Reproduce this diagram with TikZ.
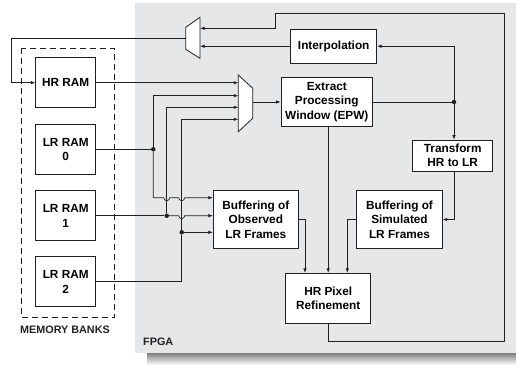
\documentclass[tikz,border=0pt]{standalone}
\usepackage{fontspec}
\setmainfont{Liberation Sans}
\usetikzlibrary{arrows.meta}
\definecolor{fpgabg}{HTML}{E6E7E8}
\definecolor{shade}{HTML}{9A9B9D}
\definecolor{ink}{HTML}{231F20}
\tikzset{
  blk/.style={draw=ink, line width=0.8pt, fill=white, align=center, inner sep=1pt,
    font=\fontsize{11.8}{14.5}\selectfont\bfseries},
  wire/.style={draw=ink, line width=0.7pt},
  arr/.style={wire, -{Latex[length=4.5pt,width=3.5pt]}},
  dot/.style={circle, fill=ink, inner sep=0pt, minimum size=4.5pt},
  lbl/.style={font=\fontsize{10.8}{13}\selectfont\bfseries, text=ink, inner sep=0pt},
  muxshape/.style={draw=ink, line width=0.8pt, fill=white}
}
\begin{document}
\begin{tikzpicture}[x=1pt,y=-1pt]
\useasboundingbox (0,0) rectangle (516,365);
% FPGA background and shadow
\fill[shade] (147,353) rectangle (516,365);
\fill[fpgabg] (135,3) rectangle (516,353);
\node[lbl, anchor=west] (fpga) at (143,341.7) {FPGA};
% memory banks
\draw[ink, line width=0.7pt, dash pattern=on 6pt off 4pt] (21,48.3) rectangle (114.3,317.7);
\node[lbl] (mem) at (65,329.3) {MEMORY BANKS};
\node[blk, minimum width=60pt, minimum height=50pt] (hr) at (65.7,82.7) {HR RAM};
\node[blk, minimum width=60pt, minimum height=50pt] (lr0) at (65.7,149.3) {LR RAM\\0};
\node[blk, minimum width=60pt, minimum height=50pt] (lr1) at (65.7,215.7) {LR RAM\\1};
\node[blk, minimum width=60pt, minimum height=50pt] (lr2) at (65.7,281.7) {LR RAM\\2};
% FPGA blocks
\node[blk, minimum width=86pt, minimum height=34.3pt] (interp) at (333.7,46.2) {Interpolation};
\node[blk, minimum width=91.7pt, minimum height=48.4pt] (epw) at (326.8,102) {Extract\\Processing\\Window (EPW)};
\node[blk, minimum width=80pt, minimum height=31pt] (trans) at (452.7,155.5) {Transform\\HR to LR};
\node[blk, minimum width=85.6pt, minimum height=57.6pt] (bufsim) at (399.5,219.5) {Buffering of\\Simulated\\LR Frames};
\node[blk, minimum width=85pt, minimum height=57.6pt] (bufobs) at (255.8,219.5) {Buffering of\\Observed\\LR Frames};
\node[blk, minimum width=85pt, minimum height=50pt] (hrp) at (328.2,298.3) {HR Pixel\\Refinement};
% top mux (output to the left)
\draw[muxshape] (185.7,27.3) -- (200,17.3) -- (200,58.3) -- (185.7,49.3) -- cycle;
\coordinate (muxAout) at (185.7,38);
\coordinate (muxAin1) at (200,28.3);
\coordinate (muxAin2) at (200,46.2);
% lower mux (output to the right)
\draw[muxshape] (238.3,75) -- (252.7,88.3) -- (252.7,118.3) -- (238.3,131.7) -- cycle;
\coordinate (muxBout) at (252.7,102);
\coordinate (muxBin1) at (238.3,82.7);
\coordinate (muxBin2) at (238.3,95.7);
\coordinate (muxBin3) at (238.3,107.3);
\coordinate (muxBin4) at (238.3,119.3);
% junctions
\node[dot] (j0) at (153.3,149.3) {};
\node[dot] (j1) at (166.7,215.7) {};
\node[dot] (j2) at (181.7,232.3) {};
\node[dot] (je) at (454,102) {};
% top mux feedback to HR RAM
\draw[arr] (muxAout) -- (11.7,38) -- (11.7,82.7) -- (hr.west);
% refinement loop back to mux
\draw[arr] (hrp.south) -- (328.2,341) -- (504.3,341) -- (504.3,13.3) -- (275,13.3) -- (275,28.3) -- (muxAin1);
\draw[arr] (interp.west) -- (muxAin2);
% HR RAM to mux
\draw[arr] (hr.east) -- (muxBin1);
\draw[arr] (muxBout) -- (epw.west);
% LR RAM 0
\draw[wire] (lr0.east) -- (j0);
\draw[arr] (j0) -- (153.3,95.7) -- (muxBin2);
\draw[arr] (j0) -- (153.3,197.7) -- (163.7,197.7) arc[start angle=180,end angle=0,radius=3] -- (178.7,197.7) arc[start angle=180,end angle=0,radius=3] -- (bufobs.west |- 0,197.7);
% LR RAM 1
\draw[wire] (lr1.east) -- (j1);
\draw[arr] (j1) -- (178.7,215.7) arc[start angle=180,end angle=0,radius=3] -- (bufobs.west |- j1);
\draw[arr] (j1) -- (166.7,107.3) -- (muxBin3);
% LR RAM 2
\draw[wire] (lr2.east) -- (181.7,281.7) -- (j2);
\draw[arr] (j2) -- (181.7,119.3) -- (muxBin4);
\draw[arr] (j2) -- (bufobs.west |- j2);
% EPW outputs
\draw[wire] (epw.east |- je) -- (je);
\draw[arr] (je) -- (454,46.2) -- (interp.east);
\draw[arr] (je) -- (je |- trans.north);
\draw[arr] (epw.south -| hrp.north) -- (hrp.north);
% transform to buffer simulated
\draw[arr] (je |- trans.south) -- (454,219.5) -- (bufsim.east);
\draw[arr] (bufsim.west) -- (347.3,219.5) -- (347.3,0 |- hrp.north);
\draw[arr] (bufobs.east) -- (305,219.5) -- (305,0 |- hrp.north);
\end{tikzpicture}
\end{document}
